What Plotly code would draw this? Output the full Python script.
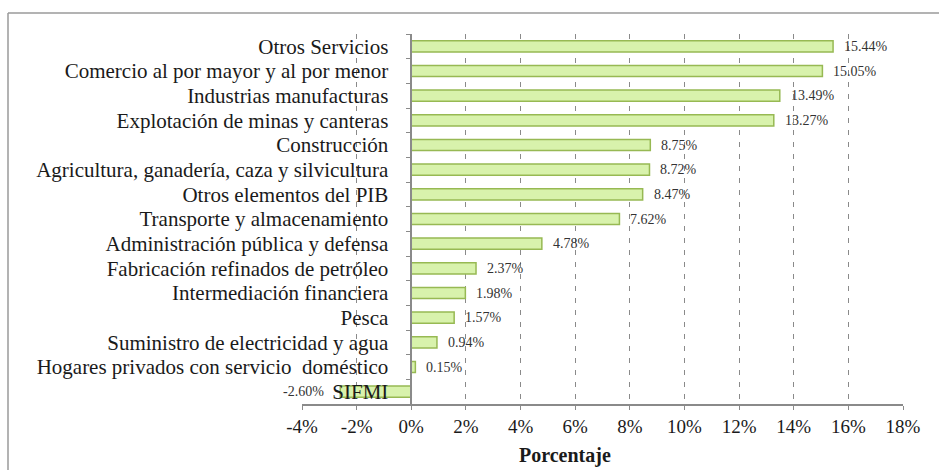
import plotly.graph_objects as go

categories = [
    "Otros Servicios",
    "Comercio al por mayor y al por menor",
    "Industrias manufacturas",
    "Explotación de minas y canteras",
    "Construcción",
    "Agricultura, ganadería, caza y silvicultura",
    "Otros elementos del PIB",
    "Transporte y almacenamiento",
    "Administración pública y defensa",
    "Fabricación refinados de petróleo",
    "Intermediación financiera",
    "Pesca",
    "Suministro de electricidad y agua",
    "Hogares privados con servicio  doméstico",
    "SIFMI",
]
values = [15.44, 15.05, 13.49, 13.27, 8.75, 8.72, 8.47, 7.62, 4.78, 2.37, 1.98, 1.57, 0.94, 0.15, -2.60]
tick_vals = [-4, -2, 0, 2, 4, 6, 8, 10, 12, 14, 16, 18]
tick_text = ["-4%", "-2%", "0%", "2%", "4%", "6%", "8%", "10%", "12%", "14%", "16%", "18%"]

W, H = 939, 470
ML, MR, MT, MB = 302, 36, 34, 66
PW, PH = W - ML - MR, H - MT - MB
XMIN, XMAX = -4, 18

SERIF = "Liberation Serif, Times New Roman, serif"

fig = go.Figure()
fig.add_trace(go.Bar(
    x=values, y=categories, orientation="h",
    marker=dict(color="#d8f2ac", line=dict(color="#97b953", width=1.5)),
    width=0.45, hoverinfo="skip",
))

annotations = []
for c, v in zip(categories, values):
    annotations.append(dict(
        x=v, y=c, xref="x", yref="y", text=f"{v:.2f}%", showarrow=False,
        xanchor="left" if v >= 0 else "right", xshift=9 if v >= 0 else -14,
        font=dict(family=SERIF, size=14, color="#333333"),
    ))
annotations.append(dict(
    x=(565 - ML) / PW, y=(H - MB - 456) / PH, xref="paper", yref="paper",
    text="<b>Porcentaje</b>", showarrow=False, xanchor="center", yanchor="middle",
    font=dict(family=SERIF, size=20, color="#1a1a1a"),
))

shapes = [
    dict(type="line", xref="paper", yref="paper",
         x0=(8 - ML) / PW, x1=(W + 5 - ML) / PW,
         y0=(H - MB - 13) / PH, y1=(H - MB - 13) / PH,
         line=dict(color="#9a9a9a", width=1.5)),
    dict(type="line", xref="paper", yref="paper",
         x0=(8 - ML) / PW, x1=(8 - ML) / PW,
         y0=(H - MB - 13) / PH, y1=(H - MB - H - 5) / PH,
         line=dict(color="#9a9a9a", width=1.5)),
]

fig.update_layout(
    width=W, height=H,
    margin=dict(l=ML, r=MR, t=MT, b=MB),
    plot_bgcolor="white", paper_bgcolor="white",
    showlegend=False,
    annotations=annotations,
    shapes=shapes,
    xaxis=dict(
        range=[XMIN, XMAX], tickvals=tick_vals, ticktext=tick_text,
        showgrid=True, gridcolor="#8a8a8a", griddash="5px,7px", gridwidth=1,
        zeroline=False,
        showline=True, linecolor="#8a8a8a", linewidth=1.5,
        ticks="outside", ticklen=4, tickcolor="#8a8a8a",
        tickfont=dict(family=SERIF, size=19, color="#1a1a1a"),
        fixedrange=True,
    ),
    yaxis=dict(
        autorange="reversed",
        tickmode="array", tickvals=categories, ticktext=categories,
        anchor="free", position=(0 - XMIN) / (XMAX - XMIN),
        showline=True, linecolor="#8a8a8a", linewidth=1.5,
        ticks="outside", ticklen=5, tickcolor="#8a8a8a", tickson="boundaries",
        ticklabelstandoff=18,
        tickfont=dict(family=SERIF, size=21, color="#1a1a1a"),
        showgrid=False, fixedrange=True,
    ),
)

fig.write_html("out.html")
